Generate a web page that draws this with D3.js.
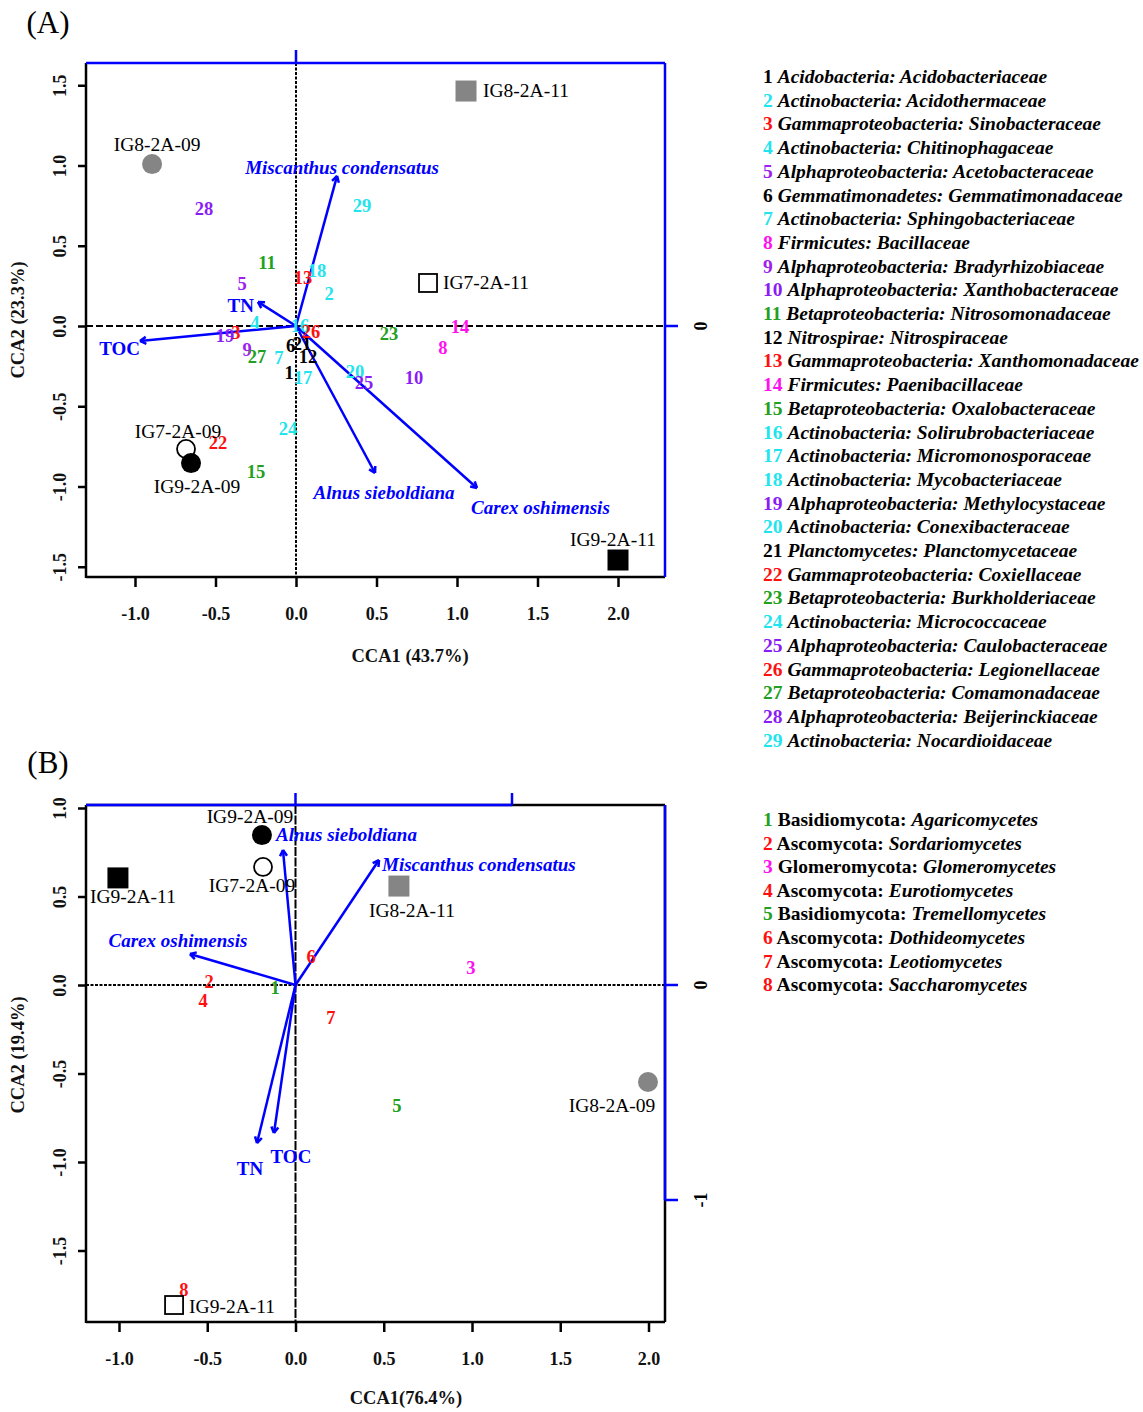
<!DOCTYPE html>
<html>
<head>
<meta charset="utf-8">
<script src="https://cdn.jsdelivr.net/npm/d3@7"></script>
<style>
  body { margin: 0; background: #fff; }
  svg { display: block; }
  text { font-family: "Liberation Serif", "Times New Roman", serif; }
</style>
</head>
<body>
<svg id="chart" width="1143" height="1412"></svg>
<script>
// ---------------- DATA: Panel A (bacteria) ----------------
const sitesA_names = ["IG8-2A-11", "IG8-2A-09", "IG7-2A-11", "IG7-2A-09", "IG9-2A-09", "IG9-2A-11"];
const sitesA_x = [1.056, -0.894, 0.820, -0.683, -0.652, 2.000];
const sitesA_y = [1.464, 1.009, 0.268, -0.766, -0.854, -1.458];
const sitesA_shape = ["square", "circle", "square", "circle", "circle", "square"];
const sitesA_fill = ["grey", "grey", "open", "open", "black", "black"];

const envA_names = ["Miscanthus condensatus", "TN", "TOC", "Alnus sieboldiana", "Carex oshimensis"];
const envA_x = [0.255, -0.236, -0.969, 0.491, 1.124];
const envA_y = [0.935, 0.150, -0.093, -0.916, -1.009];

const speciesA_id = [1,2,3,4,5,6,7,8,9,10,11,12,13,14,15,16,17,18,19,20,21,22,23,24,25,26,27,28,29];
const speciesA_x = [-0.043, 0.205, -0.373, -0.255, -0.335, -0.034, -0.106, 0.913, -0.304, 0.733, -0.180, 0.075, 0.043, 1.019, -0.248, 0.025, 0.043, 0.130, -0.441, 0.366, 0.037, -0.484, 0.578, -0.050, 0.422, 0.093, -0.242, -0.571, 0.410];
const speciesA_y = [-0.293, 0.199, -0.044, 0.021, 0.262, -0.124, -0.200, -0.137, -0.150, -0.324, 0.393, -0.193, 0.299, -0.006, -0.910, 0.000, -0.324, 0.343, -0.062, -0.287, -0.112, -0.729, -0.050, -0.642, -0.355, -0.037, -0.193, 0.729, 0.748];
const speciesA_group = ["black","cyan","red","cyan","purple","black","cyan","magenta","purple","violet","green","black","red","magenta","green","cyan","cyan","cyan","violet","cyan","black","red","green","cyan","violet","red","green","violet","cyan"];
const speciesA_phylum = ["Acidobacteria","Actinobacteria","Gammaproteobacteria","Actinobacteria","Alphaproteobacteria","Gemmatimonadetes","Actinobacteria","Firmicutes","Alphaproteobacteria","Alphaproteobacteria","Betaproteobacteria","Nitrospirae","Gammaproteobacteria","Firmicutes","Betaproteobacteria","Actinobacteria","Actinobacteria","Actinobacteria","Alphaproteobacteria","Actinobacteria","Planctomycetes","Gammaproteobacteria","Betaproteobacteria","Actinobacteria","Alphaproteobacteria","Gammaproteobacteria","Betaproteobacteria","Alphaproteobacteria","Actinobacteria"];
const speciesA_family = ["Acidobacteriaceae","Acidothermaceae","Sinobacteraceae","Chitinophagaceae","Acetobacteraceae","Gemmatimonadaceae","Sphingobacteriaceae","Bacillaceae","Bradyrhizobiaceae","Xanthobacteraceae","Nitrosomonadaceae","Nitrospiraceae","Xanthomonadaceae","Paenibacillaceae","Oxalobacteraceae","Solirubrobacteriaceae","Micromonosporaceae","Mycobacteriaceae","Methylocystaceae","Conexibacteraceae","Planctomycetaceae","Coxiellaceae","Burkholderiaceae","Micrococcaceae","Caulobacteraceae","Legionellaceae","Comamonadaceae","Beijerinckiaceae","Nocardioidaceae"];

const ticksA_x = [-1.0, -0.5, 0.0, 0.5, 1.0, 1.5, 2.0];
const ticksA_y = [-1.5, -1.0, -0.5, 0.0, 0.5, 1.0, 1.5];

// ---------------- DATA: Panel B (fungi) ----------------
const sitesB_names = ["IG9-2A-09", "IG7-2A-09", "IG9-2A-11", "IG8-2A-11", "IG8-2A-09", "IG9-2A-11"];
const sitesB_x = [-0.190, -0.184, -1.006, 0.586, 1.997, -0.688];
const sitesB_y = [0.847, 0.667, 0.605, 0.559, -0.548, -1.808];
const sitesB_shape = ["circle", "circle", "square", "square", "circle", "square"];
const sitesB_fill = ["black", "open", "black", "grey", "grey", "open"];

const envB_names = ["Alnus sieboldiana", "Miscanthus condensatus", "Carex oshimensis", "TN", "TOC"];
const envB_x = [-0.071, 0.473, -0.598, -0.218, -0.122];
const envB_y = [0.763, 0.706, 0.175, -0.893, -0.836];

const speciesB_id = [1,2,3,4,5,6,7,8];
const speciesB_x = [-0.116, -0.490, 0.994, -0.524, 0.575, 0.088, 0.201, -0.632];
const speciesB_y = [-0.017, 0.017, 0.096, -0.090, -0.684, 0.158, -0.186, -1.723];
const speciesB_group = ["green","red","magenta","red","green","red","red","red"];
const speciesB_phylum = ["Basidiomycota","Ascomycota","Glomeromycota","Ascomycota","Basidiomycota","Ascomycota","Ascomycota","Ascomycota"];
const speciesB_class = ["Agaricomycetes","Sordariomycetes","Glomeromycetes","Eurotiomycetes","Tremellomycetes","Dothideomycetes","Leotiomycetes","Saccharomycetes"];

const ticksB_x = [-1.0, -0.5, 0.0, 0.5, 1.0, 1.5, 2.0];
const ticksB_y = [-1.5, -1.0, -0.5, 0.0, 0.5, 1.0];
const biplotTicksB_x = [0, 1];
const biplotTicksB_y = [0, -1];

// ---------------- STYLE / LAYOUT ----------------
const palette = {black:"#000000", cyan:"#22e4ee", red:"#ff1010", purple:"#a020f0", violet:"#8a1cf5", magenta:"#ff10ee", green:"#22a022"};
const fillColor = {grey:"#858585", black:"#000000", open:"#ffffff"};
const BLUE = "#0000ff";
const FS_TICK = 18, FS_TITLE = 18.5, FS_SITE = 19.5, FS_ENV = 19, FS_NUM = 18.5, FS_LEG = 19.5;

// label placement [anchor, dx, dy] in pixels relative to point / arrow tip
const siteLabelA = [["start",17,6],["middle",5,-13],["start",15,6],["middle",-8,-11],["middle",6,30],["middle",-5,-14]];
const envLabelA = [["middle",5,-2],["end",-4,10],["end",0,14],["middle",9,26],["start",-6,26]];
const siteLabelB = [["middle",-12,-12],["middle",-11,25],["middle",15,25],["middle",13,31],["middle",-36,30],["start",15,8]];
const envLabelB = [["start",-7,-9],["start",3,11],["middle",-12,-7],["middle",-7,32],["middle",17,30]];

const svg = d3.select("#chart");

function fmt(v){ return v.toFixed(1).replace("\u2212","-"); }

function drawPanel(o) {
  const g = svg.append("g");
  const x = d3.scaleLinear().domain(o.xDomain).range([o.left, o.right]);
  const y = d3.scaleLinear().domain(o.yDomain).range([o.bottom, o.top]);

  // zero lines
  g.append("line").attr("x1", o.left).attr("x2", o.right).attr("y1", y(0)).attr("y2", y(0))
    .attr("stroke", "#000").attr("stroke-width", 2).attr("stroke-dasharray", o.hDash);
  g.append("line").attr("x1", x(0)).attr("x2", x(0)).attr("y1", o.top).attr("y2", o.bottom)
    .attr("stroke", "#000").attr("stroke-width", 2).attr("stroke-dasharray", o.vDash);

  // bottom axis
  const xAxis = d3.axisBottom(x).tickValues(o.xTicks).tickSize(10).tickPadding(20).tickFormat(fmt);
  const gx = g.append("g").attr("transform", `translate(0,${o.bottom})`).call(xAxis);
  gx.select(".domain").remove();
  gx.selectAll(".tick line").attr("stroke-width", 2.5);
  gx.selectAll(".tick text").attr("font-size", FS_TICK).attr("font-family", "Liberation Serif").attr("font-weight", "bold").attr("fill","#111");

  // left axis
  const yAxis = d3.axisLeft(y).tickValues(o.yTicks).tickSize(8).tickFormat(fmt);
  const gy = g.append("g").attr("transform", `translate(${o.left},0)`).call(yAxis);
  gy.select(".domain").remove();
  gy.selectAll(".tick line").attr("stroke-width", 2.5);
  gy.selectAll(".tick text").attr("font-size", FS_TICK).attr("font-family", "Liberation Serif").attr("font-weight", "bold").attr("fill","#111")
    .attr("text-anchor", "middle").attr("x", 0).attr("dy", null)
    .attr("transform", "translate(-24,0) rotate(-90)").attr("dominant-baseline", "middle");

  // frame: left & bottom black
  g.append("line").attr("x1", o.left).attr("x2", o.left).attr("y1", o.top).attr("y2", o.bottom+1).attr("stroke","#000").attr("stroke-width",2.5);
  g.append("line").attr("x1", o.left).attr("x2", o.right).attr("y1", o.bottom).attr("y2", o.bottom).attr("stroke","#000").attr("stroke-width",2.5);

  // top / right (biplot axes)
  o.frame(g, x, y);

  // env arrows
  const ox = x(0), oy = y(0);
  o.env.forEach((e, i) => {
    const tx = x(e.x), ty = y(e.y);
    g.append("line").attr("x1", ox).attr("y1", oy).attr("x2", tx).attr("y2", ty)
      .attr("stroke", BLUE).attr("stroke-width", 2.5);
    const ang = Math.atan2(ty - oy, tx - ox);
    const L = 7, a = Math.PI / 6;
    [ang + Math.PI - a, ang + Math.PI + a].forEach(t => {
      g.append("line").attr("x1", tx).attr("y1", ty)
        .attr("x2", tx + L * Math.cos(t)).attr("y2", ty + L * Math.sin(t))
        .attr("stroke", BLUE).attr("stroke-width", 2.5);
    });
    const p = o.envLabel[i];
    const italic = !(e.name === "TN" || e.name === "TOC");
    g.append("text").attr("x", tx + p[1]).attr("y", ty + p[2]).attr("text-anchor", p[0])
      .attr("font-size", FS_ENV).attr("fill", BLUE).attr("font-weight", "bold")
      .attr("font-style", italic ? "italic" : "normal").text(e.name);
  });

  // species numbers
  o.species.forEach(s => {
    g.append("text").attr("x", x(s.x)).attr("y", y(s.y)).attr("text-anchor", "middle")
      .attr("dominant-baseline", "central").attr("font-size", FS_NUM).attr("font-weight", "bold")
      .attr("fill", palette[s.group]).text(s.id);
  });

  // sites
  o.sites.forEach((s, i) => {
    const cx = x(s.x), cy = y(s.y);
    if (s.shape === "circle") {
      g.append("circle").attr("cx", cx).attr("cy", cy).attr("r", s.fill === "open" ? 9 : 10)
        .attr("fill", fillColor[s.fill]).attr("stroke", s.fill === "open" ? "#000" : "none").attr("stroke-width", 1.8);
    } else {
      const w = s.fill === "open" ? 18 : 21;
      g.append("rect").attr("x", cx - w/2).attr("y", cy - w/2).attr("width", w).attr("height", w)
        .attr("fill", fillColor[s.fill]).attr("stroke", s.fill === "open" ? "#000" : "none").attr("stroke-width", 1.8);
    }
    const p = o.siteLabel[i];
    g.append("text").attr("x", cx + p[1]).attr("y", cy + p[2]).attr("text-anchor", p[0])
      .attr("font-size", FS_SITE).attr("fill", "#000").text(s.name);
  });

  // axis titles
  g.append("text").attr("x", o.xTitlePos[0]).attr("y", o.xTitlePos[1]).attr("text-anchor", "middle")
    .attr("font-size", FS_TITLE).attr("font-weight","bold").attr("fill","#111").text(o.xTitle);
  g.append("text").attr("transform", `translate(${o.yTitlePos[0]},${o.yTitlePos[1]}) rotate(-90)`)
    .attr("text-anchor", "middle").attr("dominant-baseline","middle")
    .attr("font-size", FS_TITLE).attr("font-weight","bold").attr("fill","#111").text(o.yTitle);
  g.append("text").attr("x", o.panelPos[0]).attr("y", o.panelPos[1]).attr("text-anchor", "middle")
    .attr("font-size", 31).attr("fill", "#000").text(o.panel);

  // legend
  o.legend.forEach((l, i) => {
    const t = g.append("text").attr("x", o.legendX).attr("y", o.legendY + i * o.legendStep)
      .attr("font-size", FS_LEG).attr("fill", "#000").attr("font-weight","bold").attr("dominant-baseline","central");
    t.append("tspan").attr("fill", palette[l.group]).text(l.id + " ");
    t.append("tspan").attr("font-style", o.phylumItalic ? "italic" : "normal").text(l.phylum + ": ");
    t.append("tspan").attr("font-style", "italic").text(l.cls);
  });
}

// Panel A
drawPanel({
  left: 86, right: 665, top: 63, bottom: 577,
  xDomain: [(86 - 296) / 161, (665 - 296) / 161],
  yDomain: [(326 - 577) / 160.5, (326 - 63) / 160.5],
  xTicks: ticksA_x, yTicks: ticksA_y,
  hDash: "7,3", vDash: "3,1.5",
  frame: (g, x, y) => {
    g.append("line").attr("x1", 86).attr("x2", 665).attr("y1", 63).attr("y2", 63).attr("stroke", BLUE).attr("stroke-width", 2.5);
    g.append("line").attr("x1", 665).attr("x2", 665).attr("y1", 63).attr("y2", 577).attr("stroke", BLUE).attr("stroke-width", 2.5);
    g.append("line").attr("x1", x(0)).attr("x2", x(0)).attr("y1", 63).attr("y2", 50).attr("stroke", BLUE).attr("stroke-width", 2.5);
    g.append("line").attr("x1", 665).attr("x2", 678).attr("y1", y(0)).attr("y2", y(0)).attr("stroke", BLUE).attr("stroke-width", 2.5);
    g.append("text").attr("transform", `translate(703,${y(0)}) rotate(-90)`).attr("text-anchor","middle")
      .attr("dominant-baseline","middle").attr("font-size", FS_TICK).attr("font-weight","bold").text("0");
  },
  env: envA_names.map((n, i) => ({name: n, x: envA_x[i], y: envA_y[i]})),
  envLabel: envLabelA,
  species: speciesA_id.map((id, i) => ({id, x: speciesA_x[i], y: speciesA_y[i], group: speciesA_group[i]})),
  sites: sitesA_names.map((n, i) => ({name: n, x: sitesA_x[i], y: sitesA_y[i], shape: sitesA_shape[i], fill: sitesA_fill[i]})),
  siteLabel: siteLabelA,
  xTitle: "CCA1 (43.7%)", xTitlePos: [410, 662],
  yTitle: "CCA2 (23.3%)", yTitlePos: [20, 320],
  panel: "(A)", panelPos: [48, 33],
  legend: speciesA_id.map((id, i) => ({id, group: speciesA_group[i], phylum: speciesA_phylum[i], cls: speciesA_family[i]})),
  legendX: 763, legendY: 76, legendStep: 23.7, phylumItalic: true
});

// Panel B
drawPanel({
  left: 86, right: 665, top: 805, bottom: 1322,
  xDomain: [(86 - 295.5) / 176.5, (665 - 295.5) / 176.5],
  yDomain: [(985 - 1322) / 177, (985 - 805) / 177],
  xTicks: ticksB_x, yTicks: ticksB_y,
  hDash: "3,1.5", vDash: "9,1.5",
  frame: (g, x, y) => {
    // biplot axis scale (arrow units)
    const bx = d3.scaleLinear().domain([0, 1]).range([x(0), 512]);
    const by = d3.scaleLinear().domain([0, -1]).range([y(0), 1200]);
    g.append("line").attr("x1", 86).attr("x2", 665).attr("y1", 805).attr("y2", 805).attr("stroke", "#000").attr("stroke-width", 2.5);
    g.append("line").attr("x1", 665).attr("x2", 665).attr("y1", 805).attr("y2", 1322).attr("stroke", "#000").attr("stroke-width", 2.5);
    g.append("line").attr("x1", 86).attr("x2", bx(1)).attr("y1", 805).attr("y2", 805).attr("stroke", BLUE).attr("stroke-width", 2.5);
    g.append("line").attr("x1", 665).attr("x2", 665).attr("y1", 805).attr("y2", by(-1)).attr("stroke", BLUE).attr("stroke-width", 2.5);
    biplotTicksB_x.forEach(v => {
      g.append("line").attr("x1", bx(v)).attr("x2", bx(v)).attr("y1", 805).attr("y2", 793).attr("stroke", BLUE).attr("stroke-width", 2.5);
    });
    biplotTicksB_y.forEach(v => {
      g.append("line").attr("x1", 665).attr("x2", 678).attr("y1", by(v)).attr("y2", by(v)).attr("stroke", BLUE).attr("stroke-width", 2.5);
      g.append("text").attr("transform", `translate(703,${by(v)}) rotate(-90)`).attr("text-anchor","middle")
        .attr("dominant-baseline","middle").attr("font-size", FS_TICK).attr("font-weight","bold").text(String(v));
    });
  },
  env: envB_names.map((n, i) => ({name: n, x: envB_x[i], y: envB_y[i]})),
  envLabel: envLabelB,
  species: speciesB_id.map((id, i) => ({id, x: speciesB_x[i], y: speciesB_y[i], group: speciesB_group[i]})),
  sites: sitesB_names.map((n, i) => ({name: n, x: sitesB_x[i], y: sitesB_y[i], shape: sitesB_shape[i], fill: sitesB_fill[i]})),
  siteLabel: siteLabelB,
  xTitle: "CCA1(76.4%)", xTitlePos: [406, 1404],
  yTitle: "CCA2 (19.4%)", yTitlePos: [20, 1055],
  panel: "(B)", panelPos: [48, 773],
  legend: speciesB_id.map((id, i) => ({id, group: speciesB_group[i], phylum: speciesB_phylum[i], cls: speciesB_class[i]})),
  legendX: 763, legendY: 819, legendStep: 23.6, phylumItalic: false
});
</script>
</body>
</html>
